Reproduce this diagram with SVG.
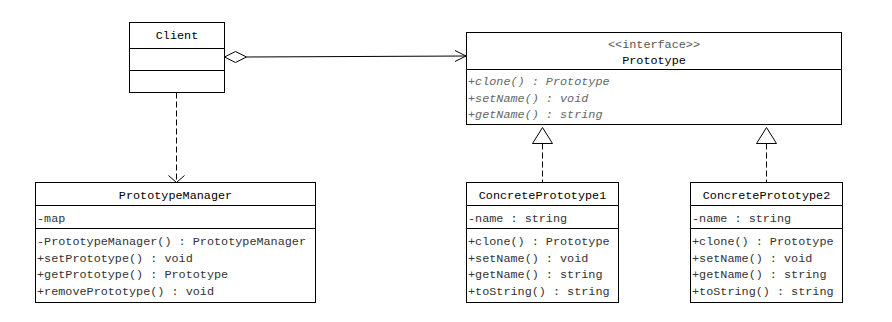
<svg xmlns="http://www.w3.org/2000/svg" width="892" height="322" viewBox="0 0 892 322">
<style>
.box{fill:#fff;stroke:#000;stroke-width:1}
.div{stroke:#000;stroke-width:1}
text{font-family:"Liberation Mono","DejaVu Sans Mono",monospace;font-size:11.8px}
.name{fill:#000;text-anchor:middle}
.mem{fill:#333}
.ital{fill:#666;font-style:italic}
.stereo{fill:#555;text-anchor:middle}
.con{fill:none;stroke:#000;stroke-width:1}
.dash{stroke-dasharray:6,3}
</style>
<rect width="892" height="322" fill="#fff"/>
<g id="connectors">
  <path class="con" d="M246.5,57 L466,56"/>
  <path class="con" d="M224.5,57 L235.5,51.5 L246.5,57 L235.5,62.5 Z" fill="#fff" style="fill:#fff"/>
  <path class="con" d="M455,50.5 L466,56 L455,61.5"/>
  <path class="con dash" d="M176.5,92.5 L176.5,182"/>
  <path class="con" d="M168.5,175.5 L176.5,182.5 L184.5,175.5"/>
  <path class="con dash" d="M542.5,143.5 L542.5,182"/>
  <path class="con" d="M542.5,127.5 L552.5,143.5 L532.5,143.5 Z" style="fill:#fff"/>
  <path class="con dash" d="M766.5,143.5 L766.5,182"/>
  <path class="con" d="M766.5,127.5 L776.5,143.5 L756.5,143.5 Z" style="fill:#fff"/>
</g>
<g id="client">
  <rect class="box" x="129.5" y="22.5" width="95" height="70"/>
  <line class="div" x1="129.5" y1="48.5" x2="224.5" y2="48.5"/>
  <line class="div" x1="129.5" y1="70.5" x2="224.5" y2="70.5"/>
  <text class="name" x="177" y="39">Client</text>
</g>
<g id="prototype">
  <rect class="box" x="466.5" y="32.5" width="375" height="92"/>
  <line class="div" x1="466.5" y1="69.5" x2="841.5" y2="69.5"/>
  <text class="stereo" x="654" y="48">&lt;&lt;interface&gt;&gt;</text>
  <text class="name" x="654" y="64">Prototype</text>
  <text class="ital" x="468" y="85">+clone() : Prototype</text>
  <text class="ital" x="468" y="101.5">+setName() : void</text>
  <text class="ital" x="468" y="118">+getName() : string</text>
</g>
<g id="prototypeManager">
  <rect class="box" x="35.5" y="182.5" width="280" height="120"/>
  <line class="div" x1="35.5" y1="205.5" x2="315.5" y2="205.5"/>
  <line class="div" x1="35.5" y1="228.5" x2="315.5" y2="228.5"/>
  <text class="name" x="175.5" y="199">PrototypeManager</text>
  <text class="mem" x="37" y="222">-map</text>
  <text class="mem" x="37" y="245">-PrototypeManager() : PrototypeManager</text>
  <text class="mem" x="37" y="261.5">+setPrototype() : void</text>
  <text class="mem" x="37" y="278">+getPrototype() : Prototype</text>
  <text class="mem" x="37" y="295">+removePrototype() : void</text>
</g>
<g id="concretePrototype1">
  <rect class="box" x="466.5" y="182.5" width="152" height="120"/>
  <line class="div" x1="466.5" y1="205.5" x2="618.5" y2="205.5"/>
  <line class="div" x1="466.5" y1="228.5" x2="618.5" y2="228.5"/>
  <text class="name" x="542.5" y="199">ConcretePrototype1</text>
  <text class="mem" x="468" y="222">-name : string</text>
  <text class="mem" x="468" y="245">+clone() : Prototype</text>
  <text class="mem" x="468" y="261.5">+setName() : void</text>
  <text class="mem" x="468" y="278">+getName() : string</text>
  <text class="mem" x="468" y="295">+toString() : string</text>
</g>
<g id="concretePrototype2">
  <rect class="box" x="690.5" y="182.5" width="152" height="120"/>
  <line class="div" x1="690.5" y1="205.5" x2="842.5" y2="205.5"/>
  <line class="div" x1="690.5" y1="228.5" x2="842.5" y2="228.5"/>
  <text class="name" x="766.5" y="199">ConcretePrototype2</text>
  <text class="mem" x="692" y="222">-name : string</text>
  <text class="mem" x="692" y="245">+clone() : Prototype</text>
  <text class="mem" x="692" y="261.5">+setName() : void</text>
  <text class="mem" x="692" y="278">+getName() : string</text>
  <text class="mem" x="692" y="295">+toString() : string</text>
</g>
</svg>
